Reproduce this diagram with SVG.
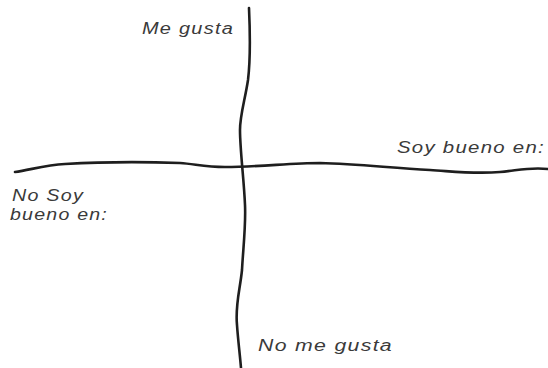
<svg xmlns="http://www.w3.org/2000/svg" width="548" height="368" viewBox="0 0 548 368">
<style>
.ax{fill:none;stroke:#1e1e1e;stroke-width:2.6;stroke-linecap:round;stroke-linejoin:round}
.t{font-family:"Liberation Sans",Arial,sans-serif;font-style:italic;font-size:16px;fill:#3a3a3a;letter-spacing:1px}
</style>
<rect width="548" height="368" fill="#fff"/>
<g id="connectors">
<path class="ax" d="M249,8 C250,30 251,55 248,80 C245,100 240,115 240,130 C240,150 244,180 245,205 C246,225 243,250 242,270 C240,290 235,305 237,325 C238,340 240,355 241,368"/>
<path class="ax" d="M15,172 C30,170 45,165 65,164 C100,162 150,162 180,163 C195,164 205,167 225,167 C260,167 290,163 320,163 C360,164 390,168 430,170 C460,172 475,174 500,172 C520,170 530,167 548,169"/>
</g>
<g id="me-gusta"><text class="t" x="142" y="34" textLength="92" lengthAdjust="spacingAndGlyphs">Me gusta</text></g>
<g id="soy-bueno"><text class="t" x="397" y="153" textLength="148" lengthAdjust="spacingAndGlyphs">Soy bueno en:</text></g>
<g id="no-soy-bueno"><text class="t" x="12" y="201" textLength="72" lengthAdjust="spacingAndGlyphs">No Soy</text><text class="t" x="10" y="220" textLength="98" lengthAdjust="spacingAndGlyphs">bueno en:</text></g>
<g id="no-me-gusta"><text class="t" x="258" y="351" textLength="135" lengthAdjust="spacingAndGlyphs">No me gusta</text></g>
</svg>
